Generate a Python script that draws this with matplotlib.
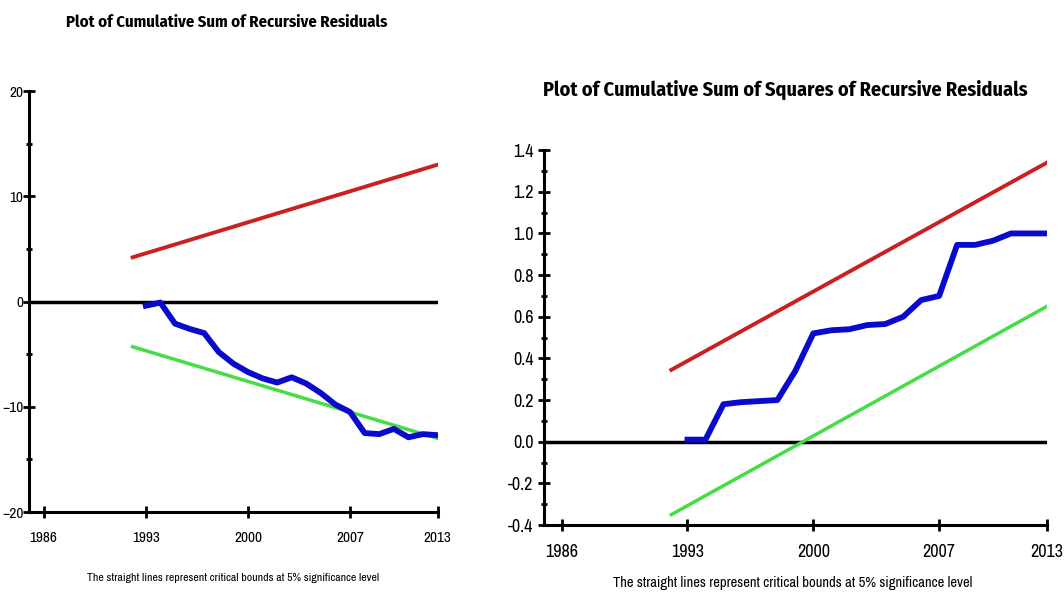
# CUSUM and CUSUM of squares plots, recursive residuals
import numpy as np
import matplotlib.pyplot as plt
from matplotlib.ticker import MultipleLocator

plt.rcParams['font.family'] = ['Archivo Narrow', 'DejaVu Sans']
plt.rcParams['font.stretch'] = 'condensed'
title_font = ['Fira Sans Condensed', 'DejaVu Sans']

# data
years = np.arange(1993, 2014)
cusum = [-0.4, -0.1, -2.1, -2.6, -3.0, -4.8, -5.9, -6.7, -7.3, -7.7, -7.2,
         -7.8, -8.7, -9.8, -10.5, -12.5, -12.6, -12.1, -12.9, -12.6, -12.7]
cusumsq = [0.01, 0.01, 0.18, 0.19, 0.195, 0.20, 0.34, 0.52, 0.535, 0.54, 0.56,
           0.565, 0.60, 0.68, 0.70, 0.945, 0.945, 0.965, 1.0, 1.0, 1.0]

bound_years = [1992.1, 2013]
cusum_upper = [4.2, 13.0]
cusum_lower = [-4.3, -13.0]
sq_upper = [0.345, 1.34]
sq_lower = [-0.35, 0.65]

xticks = [1986, 1993, 2000, 2007, 2013]

red = '#cc2020'
green = '#44dd44'
blue = '#0a0acc'

fig = plt.figure(figsize=(10.64, 5.98), dpi=100)
ax1 = fig.add_axes([0.0273, 0.1438, 0.384, 0.704])
ax2 = fig.add_axes([0.511, 0.122, 0.473, 0.627])


def style_axis(ax, size):
    for s in ['top', 'right']:
        ax.spines[s].set_visible(False)
    for s in ['left', 'bottom']:
        ax.spines[s].set_linewidth(2.2)
    ax.set_xlim(1985, 2013)
    ax.set_xticks(xticks)
    ax.tick_params(axis='both', which='major', direction='inout', length=8,
                   width=2, labelsize=size)
    ax.tick_params(axis='y', which='minor', direction='inout', length=5, width=2)
    ax.tick_params(axis='x', pad=10)


# lewy wykres - CUSUM
ax1.axhline(0, color='black', lw=2.5, zorder=1)
ax1.plot(bound_years, cusum_upper, color=red, lw=2.8)
ax1.plot(bound_years, cusum_lower, color=green, lw=2.5)
ax1.plot(years, cusum, color=blue, lw=4.2)
ax1.set_ylim(-20, 20)
ax1.yaxis.set_major_locator(MultipleLocator(10))
ax1.yaxis.set_minor_locator(MultipleLocator(5))
style_axis(ax1, 11)
ax1.tick_params(axis='y', pad=0)

# prawy wykres - CUSUM of squares
ax2.axhline(0, color='black', lw=2.5, zorder=1)
ax2.plot(bound_years, sq_upper, color=red, lw=2.8)
ax2.plot(bound_years, sq_lower, color=green, lw=2.5)
ax2.plot(years, cusumsq, color=blue, lw=4.2)
ax2.set_ylim(-0.4, 1.4)
ax2.yaxis.set_major_locator(MultipleLocator(0.2))
ax2.yaxis.set_minor_locator(MultipleLocator(0.1))
ax2.yaxis.set_major_formatter(plt.FuncFormatter(lambda v, p: '%.1f' % v))
style_axis(ax2, 13)

fig.text(0.213, 0.963, 'Plot of Cumulative Sum of Recursive Residuals',
         ha='center', va='center', fontsize=12, fontweight='bold', family=title_font)
fig.text(0.738, 0.85, 'Plot of Cumulative Sum of Squares of Recursive Residuals',
         ha='center', va='center', fontsize=14.5, fontweight='bold', family=title_font)
fig.text(0.219, 0.033, 'The straight lines represent critical bounds at 5% significance level',
         ha='center', va='center', fontsize=8.5)
fig.text(0.745, 0.025, 'The straight lines represent critical bounds at 5% significance level',
         ha='center', va='center', fontsize=10.5)

fig.savefig('out.png', dpi=100)
